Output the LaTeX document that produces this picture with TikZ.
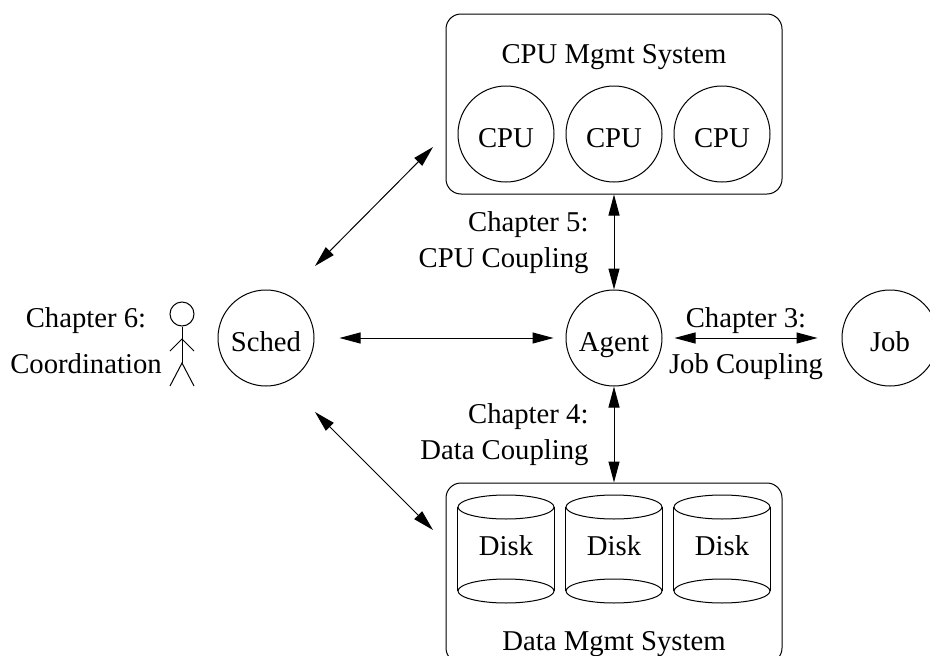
\documentclass[tikz,border=0pt]{standalone}
\usepackage{fontspec}
\setmainfont{Liberation Serif}
\usetikzlibrary{arrows.meta,shapes.geometric}
\tikzset{
  unit/.style={draw,circle,minimum size=96pt,inner sep=0pt,text height=26pt,text depth=0pt},
  sysbox/.style={draw,rounded corners=15pt,minimum width=336pt,minimum height=180pt},
  lid/.style={draw,ellipse,minimum width=96pt,minimum height=24pt,inner sep=0pt},
  link/.style={{Triangle[length=21pt,width=11pt]}-{Triangle[length=21pt,width=11pt]}},
  tag/.style={anchor=base,inner sep=0pt}
}
\begin{document}
\begin{tikzpicture}
  [x=1pt,y=-1pt,line width=1pt,font=\fontsize{28.7}{34}\selectfont]
  \clip[use as bounding box] (0,0) rectangle (930,656);
  \node[sysbox] (cpusys) at (614,104) {};
  \node[tag] (cputitle) at (614,63) {CPU Mgmt System};
  \foreach \x/\n in {506/a,614/b,722/c} {
    \node[unit] (cpu\n) at (\x,134) {CPU};
  }
  \node[sysbox] (datasys) at (614,573) {};
  \node[tag] (datatitle) at (614,650) {Data Mgmt System};
  \foreach \x/\n in {506/a,614/b,722/c} {
    \node[lid] (top\n) at (\x,507) {};
    \node[lid] (bot\n) at (\x,591) {};
    \draw (top\n.west) -- (bot\n.west);
    \draw (top\n.east) -- (bot\n.east);
    \node[tag] (disk\n) at (\x,555) {Disk};
  }
  \node[unit] (sched) at (266,338) {Sched};
  \node[unit] (agent) at (614,338) {Agent};
  \node[unit] (job) at (890,338) {Job};
  % stick figure
  \node[draw,circle,minimum size=24pt,inner sep=0pt] (head) at (182,314) {};
  \coordinate (hip) at (182,363);
  \coordinate (neck) at (182,339);
  \coordinate (handl) at (170,351);
  \coordinate (handr) at (194,351);
  \coordinate (footl) at (170,386);
  \coordinate (footr) at (194,386);
  \draw (head) -- (hip);
  \draw (handl) -- (neck) -- (handr);
  \draw (footl) -- (hip) -- (footr);
  \node[tag] (ch6a) at (86,327) {Chapter 6:};
  \node[tag] (ch6b) at (86,373) {Coordination};
  \node[tag,anchor=base east] (ch5a) at (589,231) {Chapter 5:};
  \node[tag,anchor=base east] (ch5b) at (589,267) {CPU Coupling};
  \node[tag,anchor=base east] (ch4a) at (589,423) {Chapter 4:};
  \node[tag,anchor=base east] (ch4b) at (589,459) {Data Coupling};
  \node[tag] (ch3a) at (746,327) {Chapter 3:};
  \node[tag] (ch3b) at (746,373) {Job Coupling};
  \coordinate (schedup) at (315,266);
  \coordinate (cpuend) at (433,147);
  \coordinate (scheddown) at (315,412);
  \coordinate (dataend) at (433,530);
  \draw[link] (schedup) -- (cpuend);
  \draw[link] (scheddown) -- (dataend);
  \draw[link,shorten <=25pt,shorten >=12pt] (sched) -- (agent);
  \draw[link,shorten <=12pt,shorten >=24pt] (agent) -- (job);
  \draw[link] (cpusys) -- (agent);
  \draw[link] (agent) -- (datasys);
\end{tikzpicture}
\end{document}
